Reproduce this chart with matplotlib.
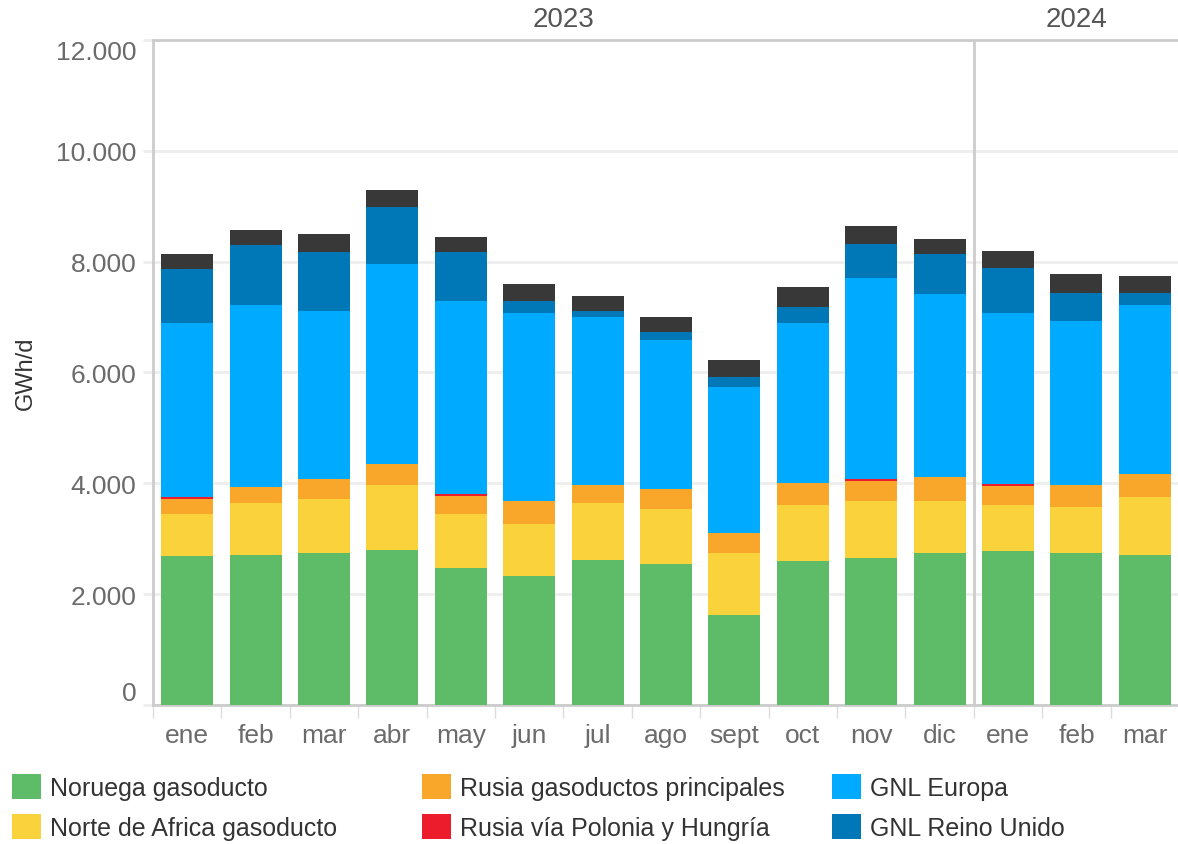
import numpy as np
import matplotlib
matplotlib.use("Agg")
import matplotlib.pyplot as plt
from matplotlib.ticker import FixedLocator

plt.rcParams['font.family'] = ['Liberation Sans', 'DejaVu Sans']

months = ['ene', 'feb', 'mar', 'abr', 'may', 'jun', 'jul', 'ago', 'sept', 'oct', 'nov', 'dic',
          'ene', 'feb', 'mar']

noruega = [2680, 2700, 2750, 2790, 2480, 2335, 2625, 2550, 1630, 2590, 2660, 2750, 2785, 2750, 2715]
norte_africa = [760, 940, 960, 1175, 975, 925, 1015, 980, 1120, 1015, 1015, 925, 815, 815, 1030]
rusia_princ = [270, 290, 360, 385, 325, 415, 325, 360, 360, 400, 360, 435, 360, 400, 420]
rusia_polonia = [40, 0, 0, 0, 35, 0, 0, 0, 0, 0, 35, 0, 35, 0, 0]
gnl_europa = [3150, 3295, 3040, 3615, 3475, 3400, 3040, 2695, 2625, 2895, 3640, 3310, 3080, 2970, 3055]
gnl_ru = [965, 1070, 1070, 1030, 885, 215, 110, 145, 180, 290, 615, 725, 815, 505, 215]
otros = [265, 270, 310, 305, 270, 310, 270, 270, 305, 345, 310, 270, 305, 345, 310]

series = [
    ('Noruega gasoducto', noruega, '#5EBB68'),
    ('Norte de Africa gasoducto', norte_africa, '#F9D23C'),
    ('Rusia gasoductos principales', rusia_princ, '#F8A72B'),
    ('Rusia vía Polonia y Hungría', rusia_polonia, '#EC1C2D'),
    ('GNL Europa', gnl_europa, '#00AAFF'),
    ('GNL Reino Unido', gnl_ru, '#0077B6'),
    ('_Otros', otros, '#383838'),
]

fig = plt.figure(figsize=(11.78, 8.45), dpi=100)
ax = fig.add_axes([0.1299, 0.1645, 0.871, 0.787])

x = np.arange(len(months))
bottom = np.zeros(len(months))
handles = []
for name, vals, col in series:
    b = ax.bar(x, vals, bottom=bottom, width=0.76, color=col, label=name, zorder=3)
    bottom += np.array(vals)
    if not name.startswith('_'):
        handles.append(b)

ax.set_xlim(-0.5, len(months) - 0.5)
ax.set_ylim(0, 12000)

ax.yaxis.grid(True, color='#EEEEEE', linewidth=2, zorder=0)
ax.set_axisbelow(True)

yt = [0, 2000, 4000, 6000, 8000, 10000, 12000]
ax.set_yticks(yt)
ax.set_yticklabels([f'{v:,}'.replace(',', '.') for v in yt])
ax.tick_params(axis='y', length=7, width=2, color='#EEEEEE', pad=5,
               labelsize=19, labelcolor='#6B6B6B')
labs = ax.get_yticklabels()
labs[0].set_va('bottom')
labs[-1].set_va('top')

ax.set_xticks(x)
ax.set_xticklabels(months)
ax.tick_params(axis='x', length=0, pad=13, labelsize=19, labelcolor='#6B6B6B')
ax.xaxis.set_minor_locator(FixedLocator(np.arange(-0.5, len(months), 1)))
ax.tick_params(axis='x', which='minor', length=9, width=1, color='#DDDDDD')

for s in ['left', 'top', 'bottom']:
    ax.spines[s].set_color('#CCCCCC')
    ax.spines[s].set_linewidth(2)
ax.spines['right'].set_visible(False)

# year separator and year labels
ax.axvline(11.5, color='#CCCCCC', linewidth=2, zorder=4)
for xpos, yr in [(5.5, '2023'), (13, '2024')]:
    ax.annotate(yr, xy=(xpos, 1.0), xycoords=ax.get_xaxis_transform(),
                xytext=(0, 15), textcoords='offset points', ha='center', va='center',
                fontsize=20, color='#555555')

ax.set_ylabel('GWh/d', fontsize=17, color='#333333', labelpad=14)

# legend: three columns of two entries
col_x = [12, 422, 832]
for i, cx in enumerate(col_x):
    leg = fig.legend(handles=handles[2 * i:2 * i + 2], loc='upper left',
                     bbox_to_anchor=(cx / 1178, 1 - 775 / 845), frameon=False,
                     fontsize=18, handlelength=1.16, handleheight=1.16,
                     handletextpad=0.38, labelspacing=0.57, borderpad=0,
                     borderaxespad=0)
    for t in leg.get_texts():
        t.set_color('#333333')

fig.savefig('out.png', dpi=100)
